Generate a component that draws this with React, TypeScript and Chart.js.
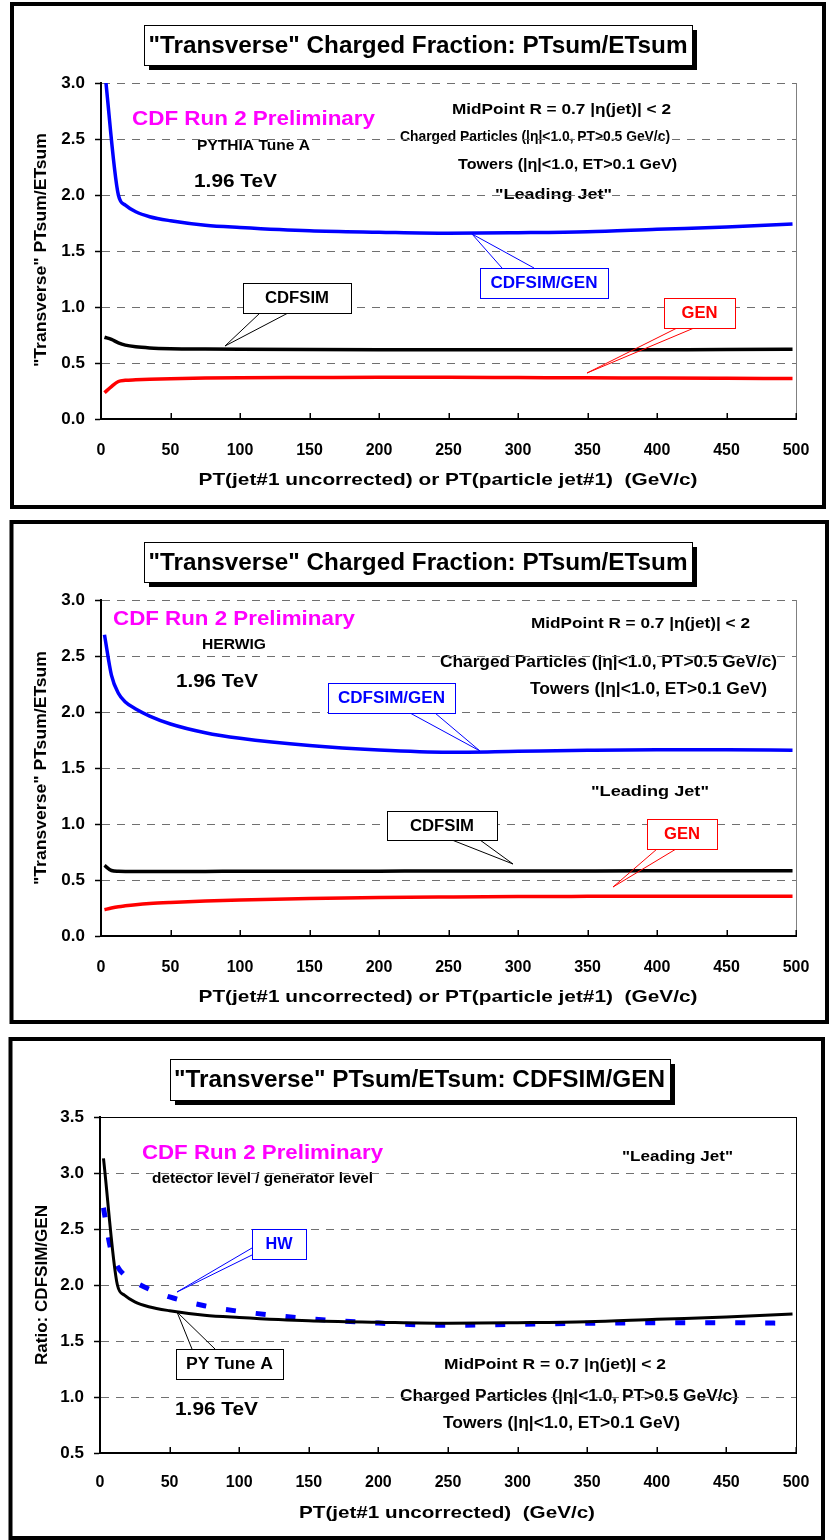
import React, { useEffect, useRef } from 'react';
import { Chart, registerables } from 'chart.js';

Chart.register(...registerables);

const FONT = '"Liberation Sans", Arial, Helvetica, sans-serif';
const W = 830;

// ---------- data ----------
const ptBins = [2.5, 7.5, 12.5, 17.5, 25, 35, 50, 75, 100, 150, 200, 250, 300, 350, 400, 450, 497.5];
const pyBins = [2.5, 12.5, 17.5, 25, 35, 50, 75, 100, 150, 200, 250, 300, 350, 400, 450, 497.5];

// PYTHIA Tune A
const pyRatio = [3.13, 2.0, 1.91, 1.85, 1.806, 1.77, 1.73, 1.71, 1.68, 1.667, 1.658, 1.663, 1.672, 1.694, 1.714, 1.741];
const pyCdfsim = [0.73, 0.71, 0.68, 0.66, 0.645, 0.635, 0.628, 0.624, 0.622, 0.62, 0.619, 0.618, 0.618, 0.618, 0.619, 0.62, 0.622];
const pyGen = [0.235, 0.29, 0.335, 0.345, 0.35, 0.355, 0.36, 0.365, 0.368, 0.37, 0.372, 0.372, 0.37, 0.368, 0.365, 0.363, 0.362];

// HERWIG
const hwRatio = [2.69, 2.33, 2.167, 2.09, 2.027, 1.964, 1.893, 1.815, 1.765, 1.70, 1.66, 1.64, 1.649, 1.658, 1.663, 1.663, 1.658];
const hwCdfsim = [0.63, 0.585, 0.578, 0.577, 0.577, 0.577, 0.577, 0.577, 0.578, 0.578, 0.579, 0.58, 0.58, 0.581, 0.582, 0.582, 0.582];
const hwGen = [0.235, 0.25, 0.262, 0.27, 0.28, 0.29, 0.30, 0.313, 0.322, 0.335, 0.343, 0.348, 0.352, 0.354, 0.355, 0.356, 0.356];

const xTickStep = 50;
const yTickStep = 0.5;

const BLUE = '#0000FF';
const RED = '#FF0000';
const BLACK = '#000000';
const MAGENTA = '#FF00FF';

const pts = (xs: number[], ys: number[]) => xs.map((x, i) => ({ x, y: ys[i] }));

const lineDs = (label: string, xs: number[], ys: number[], color: string, width: number, dash: number[] = []) => ({
  label,
  data: pts(xs, ys),
  borderColor: color,
  backgroundColor: color,
  borderWidth: width,
  borderDash: dash,
  borderCapStyle: 'butt',
  pointRadius: 0,
  fill: false,
  cubicInterpolationMode: 'monotone',
});

const T_MID = 'MidPoint R = 0.7 |η(jet)| < 2';
const T_CHG = 'Charged Particles (|η|<1.0, PT>0.5 GeV/c)';
const T_TOW = 'Towers (|η|<1.0, ET>0.1 GeV)';
const T_LJ = '"Leading Jet"';
const T_CDF = 'CDF Run 2 Preliminary';
const T_TEV = '1.96 TeV';

const panels: any[] = [
  {
    offset: 0,
    height: 515,
    area: { left: 101, right: 796, top: 83, bottom: 419 },
    yMin: 0, yMax: 3,
    xTickPad: 14,
    plotTopSolid: false,
    datasets: [
      lineDs('CDFSIM/GEN', pyBins, pyRatio, BLUE, 3.5),
      lineDs('CDFSIM', ptBins, pyCdfsim, BLACK, 3.5),
      lineDs('GEN', ptBins, pyGen, RED, 3.5),
    ],
    titleBox: { box: [144, 25, 692, 65], t: '"Transverse" Charged Fraction: PTsum/ETsum', x: 418, y: 46, size: 24, w: 539 },
    yTitle: { t: '"Transverse" PTsum/ETsum', x: 41, y: 250, len: 234 },
    xTitle: { t: 'PT(jet#1 uncorrected) or PT(particle jet#1)  (GeV/c)', x: 448, y: 480, w: 499 },
    frame: [12, 4, 824, 507],
    texts: [
      { t: T_CDF, x: 253.5, y: 119, size: 21, w: 243, color: MAGENTA },
      { t: 'PYTHIA Tune A', x: 253.5, y: 146, size: 15, w: 113 },
      { t: T_TEV, x: 235.5, y: 182, size: 18, w: 83 },
      { t: T_MID, x: 561.5, y: 110, size: 15, w: 219 },
      { t: T_CHG, x: 535, y: 137, size: 15, w: 270 },
      { t: T_TOW, x: 567.5, y: 165, size: 15, w: 219 },
      { t: T_LJ, x: 553.5, y: 195, size: 15, w: 117 },
    ],
    callouts: [
      { t: 'CDFSIM/GEN', box: [480, 268, 608, 298], color: BLUE, w: 107, tail: [[502, 268], [472, 234], [534, 268]] },
      { t: 'CDFSIM', box: [243, 283, 351, 313], color: BLACK, w: 64, tail: [[260, 313], [225, 346], [288, 313]] },
      { t: 'GEN', box: [664, 298, 735, 328], color: RED, w: 36, tail: [[677, 328], [587, 373], [694, 328]] },
    ],
  },
  {
    offset: 515,
    height: 515,
    area: { left: 101, right: 796, top: 600, bottom: 936 },
    yMin: 0, yMax: 3,
    xTickPad: 14,
    plotTopSolid: false,
    datasets: [
      lineDs('CDFSIM/GEN', ptBins, hwRatio, BLUE, 3.5),
      lineDs('CDFSIM', ptBins, hwCdfsim, BLACK, 3.5),
      lineDs('GEN', ptBins, hwGen, RED, 3.5),
    ],
    titleBox: { box: [144, 542, 692, 582], t: '"Transverse" Charged Fraction: PTsum/ETsum', x: 418, y: 563, size: 24, w: 539 },
    yTitle: { t: '"Transverse" PTsum/ETsum', x: 41, y: 768, len: 234 },
    xTitle: { t: 'PT(jet#1 uncorrected) or PT(particle jet#1)  (GeV/c)', x: 448, y: 997, w: 499 },
    frame: [11.5, 522, 827, 1022],
    texts: [
      { t: T_CDF, x: 234, y: 619, size: 21, w: 242, color: MAGENTA },
      { t: 'HERWIG', x: 234, y: 645, size: 15, w: 64 },
      { t: T_TEV, x: 217, y: 682, size: 18, w: 82 },
      { t: T_MID, x: 640.5, y: 624, size: 15, w: 219 },
      { t: T_CHG, x: 608.5, y: 663, size: 16, w: 337 },
      { t: T_TOW, x: 648.5, y: 690, size: 16, w: 237 },
      { t: T_LJ, x: 650, y: 792, size: 15, w: 118 },
    ],
    callouts: [
      { t: 'CDFSIM/GEN', box: [328, 683, 455, 713], color: BLUE, w: 107, tail: [[410, 713], [480, 751], [435, 713]] },
      { t: 'CDFSIM', box: [387, 811, 497, 840], color: BLACK, w: 64, tail: [[452, 840], [513, 864], [480, 840]] },
      { t: 'GEN', box: [647, 819, 717, 849], color: RED, w: 36, tail: [[657, 849], [613, 887], [676, 849]] },
    ],
  },
  {
    offset: 1030,
    height: 510,
    area: { left: 100, right: 796, top: 1117, bottom: 1453 },
    yMin: 0.5, yMax: 3.5,
    xTickPad: 12,
    plotTopSolid: true,
    datasets: [
      lineDs('PY Tune A', pyBins, pyRatio, BLACK, 3),
      lineDs('HW', ptBins, hwRatio, BLUE, 5, [10, 20]),
    ],
    titleBox: { box: [170, 1059, 670, 1100], t: '"Transverse" PTsum/ETsum: CDFSIM/GEN', x: 419.5, y: 1080, size: 24, w: 491 },
    yTitle: { t: 'Ratio: CDFSIM/GEN', x: 42, y: 1285, len: 160 },
    xTitle: { t: 'PT(jet#1 uncorrected)  (GeV/c)', x: 447, y: 1513, w: 296 },
    frame: [10.5, 1039, 823, 1538],
    texts: [
      { t: T_CDF, x: 262.5, y: 1153, size: 21, w: 241, color: MAGENTA },
      { t: 'detector level / generator level', x: 262.5, y: 1179, size: 15, w: 221 },
      { t: T_LJ, x: 677.5, y: 1157, size: 15, w: 111 },
      { t: T_MID, x: 555, y: 1365, size: 15, w: 222 },
      { t: T_CHG, x: 569, y: 1397, size: 16, w: 338 },
      { t: T_TOW, x: 561.5, y: 1424, size: 16, w: 237 },
      { t: T_TEV, x: 216.5, y: 1410, size: 18, w: 83 },
    ],
    callouts: [
      { t: 'HW', box: [252, 1229, 306, 1259], color: BLUE, w: 27, tail: [[252, 1248], [177, 1292], [252, 1255]] },
      { t: 'PY Tune A', box: [176, 1349, 283, 1379], color: BLACK, w: 87, tail: [[192, 1349], [177, 1312], [215, 1349]] },
    ],
  },
];

function fitText(ctx: CanvasRenderingContext2D, text: string, cx: number, cy: number, size: number, color: string, width?: number, rot = 0) {
  ctx.save();
  ctx.font = `bold ${size}px ${FONT}`;
  const natural = ctx.measureText(text).width;
  const sx = width ? width / natural : 1;
  ctx.translate(cx, cy);
  if (rot) ctx.rotate(rot);
  ctx.scale(sx, 1);
  ctx.fillStyle = color;
  ctx.textAlign = 'center';
  ctx.textBaseline = 'middle';
  ctx.fillText(text, 0, 0);
  ctx.restore();
}

function makePlugin(cfg: any) {
  const o = cfg.offset;
  return {
    id: 'panelDecor',
    beforeDraw(chart: any) {
      const ctx: CanvasRenderingContext2D = chart.ctx;
      ctx.save();
      ctx.fillStyle = '#ffffff';
      ctx.fillRect(0, 0, chart.width, chart.height);
      ctx.restore();
      for (const t of cfg.texts) fitText(ctx, t.t, t.x, t.y - o, t.size, t.color || BLACK, t.w);
      fitText(ctx, cfg.yTitle.t, cfg.yTitle.x, cfg.yTitle.y - o, 17, BLACK, cfg.yTitle.len, -Math.PI / 2);
      fitText(ctx, cfg.xTitle.t, cfg.xTitle.x, cfg.xTitle.y - o, 17, BLACK, cfg.xTitle.w);
    },
    afterDraw(chart: any) {
      const ctx: CanvasRenderingContext2D = chart.ctx;
      const ca = chart.chartArea;
      const xs = chart.scales.x;
      ctx.save();
      // plot-area frame (right / top)
      ctx.lineWidth = 1;
      ctx.strokeStyle = cfg.plotTopSolid ? '#000' : '#808080';
      ctx.beginPath();
      ctx.moveTo(ca.right + 0.5, ca.top);
      ctx.lineTo(ca.right + 0.5, ca.bottom);
      ctx.stroke();
      if (cfg.plotTopSolid) {
        ctx.beginPath();
        ctx.moveTo(ca.left, ca.top + 0.5);
        ctx.lineTo(ca.right, ca.top + 0.5);
        ctx.stroke();
      }
      // inward x tick marks
      ctx.strokeStyle = '#000';
      ctx.lineWidth = 1.5;
      for (const tk of xs.ticks) {
        if (tk.value === xs.min) continue;
        const px = Math.round(xs.getPixelForValue(tk.value)) + 0.25;
        ctx.beginPath();
        ctx.moveTo(px, ca.bottom);
        ctx.lineTo(px, ca.bottom - 6);
        ctx.stroke();
      }
      // callouts
      for (const c of cfg.callouts) {
        const [x1, y1, x2, y2] = c.box;
        ctx.strokeStyle = c.color;
        ctx.lineWidth = 1;
        ctx.beginPath();
        ctx.moveTo(c.tail[0][0], c.tail[0][1] - o);
        ctx.lineTo(c.tail[1][0], c.tail[1][1] - o);
        ctx.lineTo(c.tail[2][0], c.tail[2][1] - o);
        ctx.stroke();
        ctx.fillStyle = '#fff';
        ctx.fillRect(x1, y1 - o, x2 - x1, y2 - y1);
        ctx.strokeRect(x1 + 0.5, y1 - o + 0.5, x2 - x1, y2 - y1);
        fitText(ctx, c.t, (x1 + x2) / 2, (y1 + y2) / 2 - o + 1, 16, c.color, c.w);
      }
      // title box with shadow
      const tb = cfg.titleBox;
      const [bx1, by1, bx2, by2] = tb.box;
      ctx.fillStyle = '#000';
      ctx.fillRect(bx1 + 5, by1 - o + 5, bx2 - bx1, by2 - by1);
      ctx.fillStyle = '#fff';
      ctx.fillRect(bx1, by1 - o, bx2 - bx1, by2 - by1);
      ctx.strokeStyle = '#000';
      ctx.lineWidth = 1;
      ctx.strokeRect(bx1 + 0.5, by1 - o + 0.5, bx2 - bx1, by2 - by1);
      fitText(ctx, tb.t, tb.x, tb.y - o, tb.size, BLACK, tb.w);
      // panel frame
      const [fx1, fy1, fx2, fy2] = cfg.frame;
      ctx.lineWidth = 4;
      ctx.strokeStyle = '#000';
      ctx.strokeRect(fx1, fy1 - o, fx2 - fx1, fy2 - fy1);
      ctx.restore();
    },
  };
}

function Panel({ cfg }: { cfg: any }) {
  const ref = useRef<HTMLCanvasElement>(null);
  useEffect(() => {
    const canvas = ref.current as HTMLCanvasElement;
    const a = {
      left: cfg.area.left,
      right: cfg.area.right,
      top: cfg.area.top - cfg.offset,
      bottom: cfg.area.bottom - cfg.offset,
    };
    const tickFont = { family: FONT, size: 16, weight: 'bold' as const };
    const chart = new Chart(canvas, {
      type: 'line',
      data: { datasets: cfg.datasets },
      options: {
        responsive: false,
        animation: false,
        devicePixelRatio: 1,
        layout: { padding: { left: 0, top: a.top, right: W - a.right, bottom: 0 }, autoPadding: false },
        plugins: { legend: { display: false }, tooltip: { enabled: false }, title: { display: false } },
        elements: { point: { radius: 0 } },
        scales: {
          x: {
            type: 'linear',
            min: 0,
            max: 500,
            border: { display: true, color: '#000', width: 2, z: 1 },
            grid: { display: false },
            ticks: { stepSize: xTickStep, padding: cfg.xTickPad, color: '#000', font: tickFont, maxRotation: 0, autoSkip: false },
            afterFit: (s: any) => {
              s.height = cfg.height - a.bottom;
              s.paddingLeft = 0;
              s.paddingRight = 0;
            },
          },
          y: {
            type: 'linear',
            min: cfg.yMin,
            max: cfg.yMax,
            border: { display: true, color: '#000', width: 2, dash: [8, 7], z: 1 },
            grid: {
              color: (c: any) => (c.tick && c.tick.value === cfg.yMin ? 'rgba(0,0,0,0)' : '#707070'),
              lineWidth: 1,
              drawTicks: true,
              tickLength: 6,
              tickColor: '#000',
              tickWidth: 1.5,
            },
            ticks: {
              stepSize: yTickStep,
              padding: 10,
              color: '#000',
              font: { family: FONT, size: 17, weight: 'bold' as const },
              callback: (v: any) => Number(v).toFixed(1),
            },
            afterFit: (s: any) => {
              s.width = a.left;
              s.paddingTop = 0;
              s.paddingBottom = 0;
            },
          },
        },
      } as any,
      plugins: [makePlugin(cfg)],
    });
    return () => chart.destroy();
  }, [cfg]);
  return (
    <canvas
      ref={ref}
      width={W}
      height={cfg.height}
      style={{ position: 'absolute', left: 0, top: cfg.offset, width: W, height: cfg.height, display: 'block' }}
    />
  );
}

export default function App() {
  return (
    <div style={{ position: 'absolute', left: 0, top: 0, width: W, height: 1540, background: '#fff' }}>
      {panels.map((p, i) => (
        <Panel key={i} cfg={p} />
      ))}
    </div>
  );
}
